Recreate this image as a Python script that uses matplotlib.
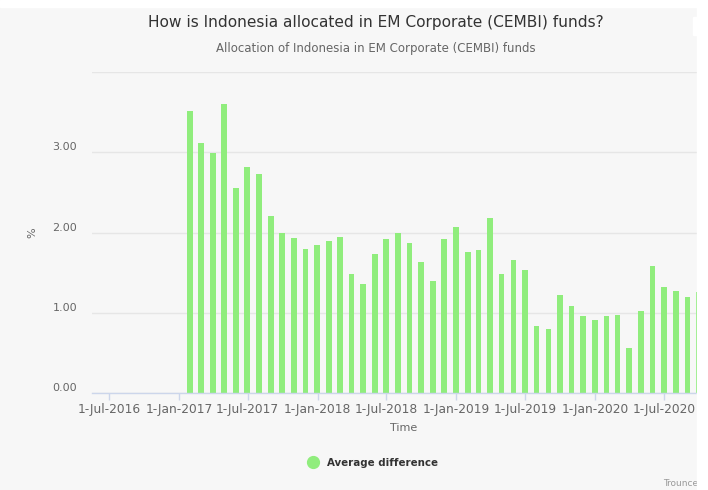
#!/usr/bin/env python
import numpy as np
import pandas as pd
import matplotlib
matplotlib.use("Agg")
import matplotlib.pyplot as plt
import matplotlib.dates as mdates
import matplotlib.transforms as mtransforms
from matplotlib.patches import Rectangle

# Data: monthly allocation (%), month-end dates
months = pd.date_range("2017-01-31", periods=45, freq="ME")
allocation = [3.51, 3.12, 2.99, 3.60, 2.56, 2.82, 2.73, 2.21, 2.00, 1.94,
              1.80, 1.85, 1.90, 1.95, 1.49, 1.36, 1.73, 1.92, 2.00, 1.87,
              1.63, 1.40, 1.92, 2.07, 1.76, 1.78, 2.18, 1.48, 1.66, 1.53,
              0.84, 0.80, 1.23, 1.09, 0.96, 0.91, 0.96, 0.97, 0.57, 1.02,
              1.59, 1.32, 1.27, 1.20, 1.26]
y_ticks = [0, 1, 2, 3, 4]
y_labels = ["0.00", "1.00", "2.00", "3.00", ""]
x_ticks = pd.to_datetime(["2016-07-01", "2017-01-01", "2017-07-01", "2018-01-01",
                          "2018-07-01", "2019-01-01", "2019-07-01", "2020-01-01",
                          "2020-07-01"])

title = "How is Indonesia allocated in EM Corporate (CEMBI) funds?"
subtitle = "Allocation of Indonesia in EM Corporate (CEMBI) funds"

W, H = 708, 490
bg = "#f7f7f7"
bar_color = "#90ed7d"

fig = plt.figure(figsize=(W / 100, H / 100), dpi=100)
fig.patch.set_facecolor(bg)

# plot area in pixels
left, right = 91.7, 716
bottom, top = 393.3, 72.1
ax = fig.add_axes([left / W, 1 - bottom / H, (right - left) / W, (bottom - top) / H])
ax.set_facecolor(bg)

ax.bar(months, allocation, width=15, color=bar_color, zorder=3)

ax.set_xlim(pd.Timestamp("2016-05-16 12:00"), pd.Timestamp("2020-11-14"))
ax.set_ylim(0, 4)

ax.set_yticks(y_ticks)
ax.set_yticklabels(y_labels)
ax.set_xticks(x_ticks)
ax.xaxis.set_major_formatter(mdates.DateFormatter("%-d-%b-%Y"))

ax.grid(axis="y", color="#e6e6e6", lw=1, zorder=0)
for s in ["top", "right", "left"]:
    ax.spines[s].set_visible(False)
ax.spines["bottom"].set_color("#ccd6eb")
ax.spines["bottom"].set_linewidth(1)
ax.spines["bottom"].set_zorder(4)

ax.tick_params(axis="x", direction="out", length=5, width=1, color="#ccd6eb",
               labelcolor="#666666", labelsize=8.8, pad=2)
ax.tick_params(axis="y", length=0, labelcolor="#666666", labelsize=8, pad=10.6)

# raise y labels a bit above their gridlines
offset = mtransforms.ScaledTranslation(0, 0.06, fig.dpi_scale_trans)
for lab in ax.get_yticklabels():
    lab.set_transform(lab.get_transform() + offset)

ax.set_ylabel("%", color="#666666", fontsize=8)
ax.yaxis.set_label_coords((37.5 - left) / (right - left), (bottom - 232.5) / (bottom - top))

# titles
fig.text(376 / W, 1 - 27 / H, title, ha="center", va="baseline",
         fontsize=11.1, color="#333333")
fig.text(376 / W, 1 - 52 / H, subtitle, ha="center", va="baseline",
         fontsize=8.5, color="#666666")
fig.text(404 / W, 1 - 431 / H, "Time", ha="center", va="baseline",
         fontsize=8, color="#666666")

# legend
fig.lines.append(plt.Line2D([312.5 / W], [1 - 462 / H], marker="o", markersize=8.5,
                            color=bar_color, transform=fig.transFigure))
fig.text(327 / W, 1 - 466 / H, "Average difference", ha="left", va="baseline",
         fontsize=7.4, fontweight="bold", color="#333333")

# credits
fig.text(663 / W, 1 - 486 / H, "Trounce", ha="left", va="baseline",
         fontsize=6.5, color="#999999")

# screenshot edges (white outside the chart container)
fig.add_artist(Rectangle((697 / W, 0), 11 / W, 1, transform=fig.transFigure,
                         color="white", zorder=10))
fig.add_artist(Rectangle((0, 1 - 7 / H), 1, 7 / H, transform=fig.transFigure,
                         color="white", zorder=10))
fig.add_artist(Rectangle((693 / W, 1 - 35 / H), 4 / W, 18 / H, transform=fig.transFigure,
                         color="white", zorder=10))

fig.savefig("out.png", dpi=100, facecolor=fig.get_facecolor())
